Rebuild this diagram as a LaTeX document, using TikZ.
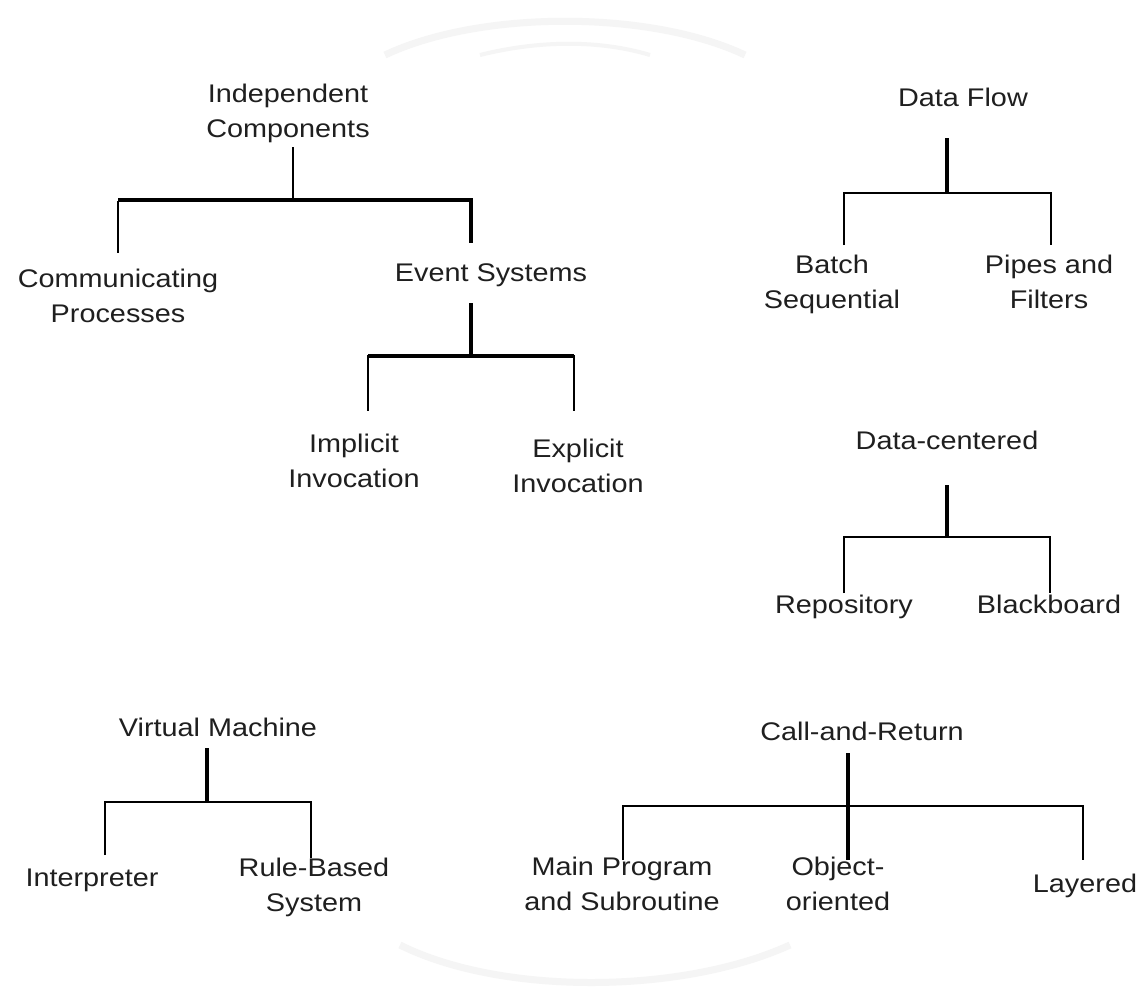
\documentclass[tikz,border=0pt]{standalone}
\usepackage{fontspec}
\setmainfont[FakeStretch=1.13]{Liberation Sans}
\begin{document}
\begin{tikzpicture}[x=1pt,y=-1pt,
  lbl/.style={align=center,inner sep=0pt,anchor=base,font=\fontsize{25.5}{35}\selectfont,text=black!88},
  thinl/.style={line width=2pt,black},
  thickl/.style={line width=4pt,black}]
\useasboundingbox (0,0) rectangle (1140,1001);
\fill[white] (0,0) rectangle (1140,1001);
% faint watermark arcs
\draw[gray!8,line width=7pt] (385,55) .. controls (480,10) and (650,10) .. (745,55);
\draw[gray!8,line width=4pt] (480,55) .. controls (540,40) and (600,40) .. (650,55);
\draw[gray!8,line width=7pt] (400,945) .. controls (500,995) and (680,995) .. (790,945);

% Independent Components
\node[lbl] (ic) at (288,137) {Independent\\Components};
\node[lbl] (cp) at (118,322) {Communicating\\Processes};
\node[lbl] (es) at (491,281) {Event Systems};
\node[lbl] (ii) at (354,487) {Implicit\\Invocation};
\node[lbl] (ei) at (578,492) {Explicit\\Invocation};
\coordinate (j1) at (293,200);
\draw[thinl] (293,147) -- (j1);
\draw[thickl] (118,200) -- (j1) -- (471,200) -- (471,243);
\draw[thinl] (118,201) -- (118,253);
\coordinate (j2) at (471,356);
\draw[thickl] (471,303) -- (j2);
\draw[thickl] (368,356) -- (574,356);
\draw[thinl] (368,355) -- (368,411);
\draw[thinl] (574,355) -- (574,411);

% Data Flow
\node[lbl] (df) at (963,106) {Data Flow};
\node[lbl] (bs) at (832,308) {Batch\\Sequential};
\node[lbl] (pf) at (1049,308) {Pipes and\\Filters};
\coordinate (j3) at (947,193);
\draw[thickl] (947,138) -- (j3);
\draw[thinl] (844,245) -- (844,193) -- (1051,193) -- (1051,245);

% Data-centered
\node[lbl] (dc) at (947,449) {Data-centered};
\node[lbl] (re) at (844,613) {Repository};
\node[lbl] (bb) at (1049,613) {Blackboard};
\coordinate (j4) at (947,537);
\draw[thickl] (947,485) -- (j4);
\draw[thinl] (844,593) -- (844,537) -- (1050,537) -- (1050,593);

% Virtual Machine
\node[lbl] (vm) at (218,736) {Virtual Machine};
\node[lbl] (in) at (92,886) {Interpreter};
\node[lbl] (rb) at (314,911) {Rule-Based\\System};
\coordinate (j5) at (207,801);
\draw[thickl] (207,748) -- (j5);
\draw[thinl] (105,855) -- (105,802) -- (311,802) -- (311,858);

% Call-and-Return
\node[lbl] (cr) at (862,740) {Call-and-Return};
\node[lbl] (mp) at (622,910) {Main Program\\and Subroutine};
\node[lbl] (oo) at (838,910) {Object-\\oriented};
\node[lbl] (la) at (1085,892) {Layered};
\coordinate (j6) at (848,806);
\draw[thinl] (623,860) -- (623,806) -- (1083,806) -- (1083,860);
\draw[thickl] (848,753) -- (848,860);
\end{tikzpicture}
\end{document}
